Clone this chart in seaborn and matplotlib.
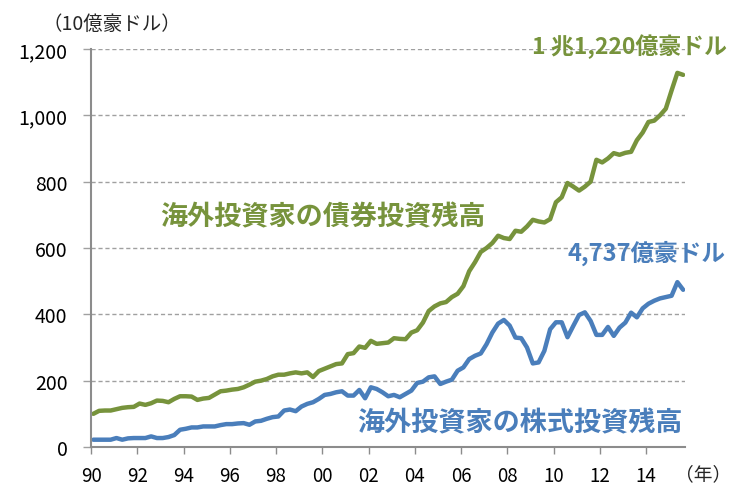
import numpy as np
import pandas as pd
import matplotlib
matplotlib.use('Agg')
import matplotlib.pyplot as plt
import seaborn as sns

# 四半期データ 1990Q1 - 2015Q3 (10億豪ドル)
bond = [100, 109, 110, 110,
        114, 118, 120, 121,
        131, 127, 132, 140,
        139, 135, 145, 153,
        153, 152, 142, 146,
        148, 158, 168, 170,
        173, 175, 180, 188,
        197, 200, 205, 213,
        218, 218, 222, 225,
        222, 225, 211, 229,
        236, 243, 250, 252,
        280, 283, 303, 299,
        320, 311, 313, 315,
        328, 326, 325, 345,
        352, 375, 410, 424,
        433, 437, 452, 462,
        485, 530, 557, 588,
        600, 615, 637, 630,
        627, 652, 649, 665,
        685, 680, 677, 687,
        738, 753, 796, 785,
        773, 785, 800, 866,
        858, 870, 886, 881,
        887, 890, 925, 948,
        980, 984, 1000, 1020,
        1075, 1128, 1122]

equity = [22, 22, 22, 22,
          27, 22, 26, 27,
          27, 27, 32, 27,
          27, 30, 36, 52,
          55, 59, 59, 62,
          62, 62, 66, 69,
          69, 71, 72, 67,
          77, 79, 85, 90,
          92, 110, 113, 108,
          122, 130, 135, 145,
          157, 160, 165, 168,
          155, 155, 172, 147,
          180, 175, 165, 153,
          157, 150, 160, 170,
          193, 197, 210, 213,
          190, 197, 203, 230,
          240, 265, 275, 282,
          310, 345, 372, 383,
          366, 330, 328, 300,
          252, 255, 290, 355,
          376, 376, 331, 365,
          398, 406, 380, 338,
          338, 362, 335, 360,
          375, 405, 391, 418,
          432, 441, 448, 452,
          456, 497, 474]

tick_years = list(range(1990, 2015, 2))
tick_labels = [f'{y % 100:02d}' for y in tick_years]
y_ticks = [0, 200, 400, 600, 800, 1000, 1200]

green = '#77933C'
blue = '#4A7EBB'

t = 1990.1 + 0.25 * np.arange(len(bond))
df = pd.DataFrame({
    't': np.concatenate([t, t]),
    'value': bond + equity,
    'series': ['bond'] * len(bond) + ['equity'] * len(equity),
})

sns.set_style('white')
plt.rcParams['font.family'] = ['Noto Sans CJK JP', 'DejaVu Sans']

fig = plt.figure(figsize=(7.41, 4.89), dpi=100)
ax = fig.add_axes([91 / 741, 41 / 489, 594 / 741, 398 / 489])

sns.lineplot(data=df, x='t', y='value', hue='series',
             palette={'bond': green, 'equity': blue},
             linewidth=3.2, legend=False, ax=ax)

ax.set_xlim(1990, 2015.68)
ax.set_ylim(0, 1200)
ax.set_xticks(tick_years)
ax.set_xticklabels(tick_labels)
ax.set_yticks(y_ticks)
ax.set_yticklabels([f'{v:,}' for v in y_ticks])
ax.set_xlabel('')
ax.set_ylabel('')

ax.yaxis.grid(True, linestyle=(0, (3, 2)), color='#A0A0A0', linewidth=1)
ax.xaxis.grid(False)
for s in ['top', 'right']:
    ax.spines[s].set_visible(False)
for s in ['left', 'bottom']:
    ax.spines[s].set_color('#8C8C8C')
    ax.spines[s].set_linewidth(1.5)

ax.tick_params(axis='y', length=6, width=1, color='#A0A0A0', pad=11,
               labelsize=14, labelcolor='black', left=True)
ax.tick_params(axis='x', length=5, width=1, color='#8C8C8C', pad=8,
               labelsize=13.5, labelcolor='black', bottom=True)

fig.text(112 / 741, 1 - 24 / 489, '（10億豪ドル）', fontsize=14,
         ha='center', va='center')
fig.text(703 / 741, 1 - 475 / 489, '（年）', fontsize=13.5,
         ha='center', va='center')

fig.text(727 / 741, 1 - 47 / 489, '1 兆1,220億豪ドル', color=green,
         fontsize=16.5, fontweight='bold', ha='right', va='center')
fig.text(725 / 741, 1 - 253 / 489, '4,737億豪ドル', color=blue,
         fontsize=17, fontweight='bold', ha='right', va='center')
fig.text(323 / 741, 1 - 217 / 489, '海外投資家の債券投資残高', color=green,
         fontsize=19.5, fontweight='bold', ha='center', va='center')
fig.text(520 / 741, 1 - 423 / 489, '海外投資家の株式投資残高', color=blue,
         fontsize=19.5, fontweight='bold', ha='center', va='center')

fig.savefig('out.png', dpi=100)
